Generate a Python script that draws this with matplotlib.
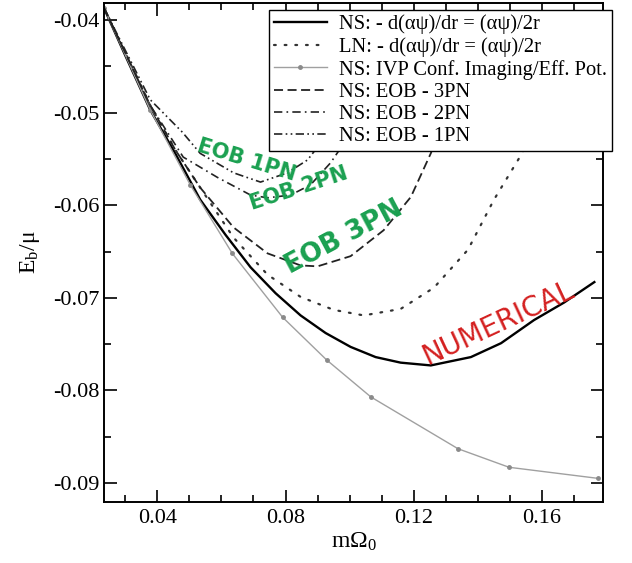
import matplotlib
matplotlib.use("Agg")
import matplotlib.pyplot as plt
from matplotlib.ticker import MultipleLocator

plt.rcParams['font.family'] = ['Liberation Serif', 'DejaVu Serif']
plt.rcParams['mathtext.fontset'] = 'custom'
plt.rcParams['mathtext.rm'] = 'Liberation Serif'
plt.rcParams['axes.unicode_minus'] = False

# numerical NS curve
ns_x = [0.0234, 0.0300, 0.0378, 0.0456, 0.0534, 0.0613, 0.0691, 0.0769, 0.0847,
        0.0925, 0.1003, 0.1081, 0.1159, 0.1253, 0.1378, 0.1472, 0.1575, 0.1669, 0.1763]
ns_y = [-0.0387, -0.0438, -0.0497, -0.0544, -0.0594, -0.0632, -0.0667, -0.0695, -0.0719,
        -0.0738, -0.0753, -0.0764, -0.0770, -0.0773, -0.0764, -0.0749, -0.0724, -0.0705, -0.0683]

# LN dotted curve
ln_x = [0.0234, 0.0378, 0.0456, 0.0534, 0.0638, 0.0744, 0.0847, 0.0950, 0.1044,
        0.1159, 0.1263, 0.1369, 0.1450, 0.1534, 0.1613]
ln_y = [-0.0387, -0.0492, -0.0540, -0.0581, -0.0635, -0.0675, -0.0699, -0.0713, -0.0719,
        -0.0712, -0.0689, -0.0648, -0.0594, -0.0546, -0.0492]

# IVP points
ivp_x = [0.0234, 0.0378, 0.0503, 0.0634, 0.0791, 0.0928, 0.1066, 0.1338, 0.1497, 0.1775]
ivp_y = [-0.0387, -0.0497, -0.0578, -0.0652, -0.0721, -0.0767, -0.0807, -0.0863, -0.0883, -0.0895]

# EOB curves
eob3_x = [0.0234, 0.0378, 0.0456, 0.0534, 0.0638, 0.0744, 0.0847, 0.0900, 0.1003,
          0.1106, 0.1191, 0.1253, 0.1300]
eob3_y = [-0.0387, -0.0492, -0.0540, -0.0581, -0.0624, -0.0652, -0.0665, -0.0666, -0.0655,
          -0.0627, -0.0591, -0.0544, -0.0503]

eob2_x = [0.0234, 0.0378, 0.0481, 0.0588, 0.0691, 0.0744, 0.0816, 0.0878, 0.0941, 0.0988]
eob2_y = [-0.0387, -0.0492, -0.0548, -0.0570, -0.0589, -0.0592, -0.0589, -0.0578, -0.0554, -0.0530]

eob1_x = [0.0234, 0.0378, 0.0478, 0.0534, 0.0638, 0.0722, 0.0806, 0.0869, 0.0916, 0.0960]
eob1_y = [-0.0387, -0.0486, -0.0521, -0.0544, -0.0565, -0.0575, -0.0565, -0.0551, -0.0530, -0.0500]

labels = ['NS: - d(αψ)/dr = (αψ)/2r',
          'LN: - d(αψ)/dr = (αψ)/2r',
          'NS: IVP Conf. Imaging/Eff. Pot.',
          'NS: EOB - 3PN',
          'NS: EOB - 2PN',
          'NS: EOB - 1PN']

fig = plt.figure(figsize=(6.32, 5.63), dpi=100)
ax = fig.add_axes([104 / 632, 1 - 502 / 563, (603 - 104) / 632, (502 - 3) / 563])

ax.plot(ns_x, ns_y, '-', color='black', lw=1.7, label=labels[0])
ax.plot(ln_x, ln_y, color='#333333', lw=1.6, linestyle=(0, (0.8, 4)),
        dash_capstyle='round', label=labels[1])
ax.plot(ivp_x, ivp_y, '-', color='#a0a0a0', lw=1.0, marker='o', markersize=2.5,
        markerfacecolor='#8a8a8a', markeredgecolor='#8a8a8a', label=labels[2])
ax.plot(eob3_x, eob3_y, color='#222222', lw=1.3, linestyle=(0, (5, 2.5)), label=labels[3])
ax.plot(eob2_x, eob2_y, color='#222222', lw=1.2, linestyle=(0, (5, 2.5, 1, 2.5)), label=labels[4])
ax.plot(eob1_x, eob1_y, color='#222222', lw=1.2, linestyle=(0, (5, 2, 1, 2, 1, 2)), label=labels[5])

ax.set_xlim(0.0234, 0.1790)
ax.set_ylim(-0.09205, -0.03816)
ax.xaxis.set_major_locator(MultipleLocator(0.04))
ax.xaxis.set_minor_locator(MultipleLocator(0.01))
ax.yaxis.set_major_locator(MultipleLocator(0.01))
ax.yaxis.set_minor_locator(MultipleLocator(0.005))
ax.xaxis.set_major_formatter(lambda v, p: f"{v:.2f}")
ax.yaxis.set_major_formatter(lambda v, p: f"{v:.2f}".replace('\u2212', '-'))
ax.tick_params(which='both', direction='in', top=True, right=True, width=1.2, labelsize=16)
ax.tick_params(which='major', length=9)
ax.tick_params(which='minor', length=5)
ax.tick_params(axis='x', which='major', pad=5)
ax.tick_params(axis='y', which='major', pad=3)
for s in ax.spines.values():
    s.set_linewidth(1.4)

ax.set_xlabel(r'$\mathrm{m\Omega_0}$', fontsize=17, labelpad=2)
ax.set_ylabel(r'$\mathrm{E_b/\mu}$', fontsize=17, labelpad=8)

leg = ax.legend(loc='upper right', bbox_to_anchor=(1.018, 0.986), fontsize=14.8,
                frameon=True, fancybox=False, edgecolor='black', framealpha=1,
                handlelength=2.6, handletextpad=0.6, labelspacing=0.14,
                borderpad=0.22, borderaxespad=0.0)
leg.get_frame().set_linewidth(1.0)

# handwritten notes on the scan
notes = dict(family='DejaVu Sans', ha='center', va='center', zorder=10)
ax.text(0.0680, -0.0551, 'EOB 1PN', color='#1aa050', fontsize=15, fontweight='bold',
        rotation=-17, **notes)
ax.text(0.0841, -0.0582, 'EOB 2PN', color='#1aa050', fontsize=15, fontweight='bold',
        rotation=18, **notes)
ax.text(0.0981, -0.0635, 'EOB 3PN', color='#1aa050', fontsize=19, fontweight='bold',
        rotation=28, **notes)
ax.text(0.1463, -0.0727, 'NUMERICAL', color='#d42020', fontsize=20,
        rotation=25, **notes)

fig.savefig('out.png', dpi=100)
